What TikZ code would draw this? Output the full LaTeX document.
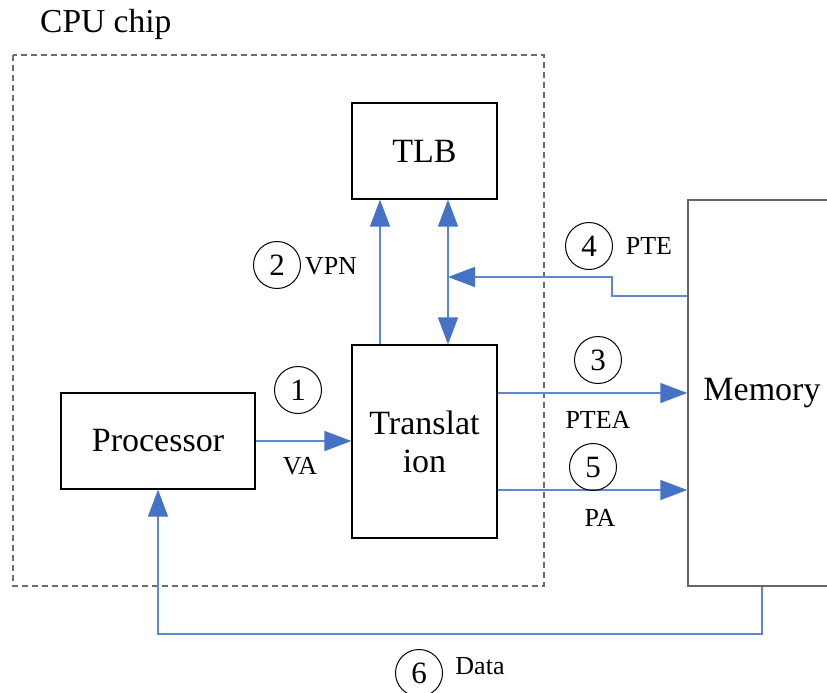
\documentclass[tikz,border=0pt]{standalone}
\usepackage{fontspec}
\setmainfont{Liberation Serif}
\usetikzlibrary{arrows.meta,calc}
\definecolor{arrblue}{HTML}{4472C4}
\definecolor{lineblue}{HTML}{5B88D0}
\begin{document}
\begin{tikzpicture}[x=1pt,y=-1pt,
  box/.style={draw=black,line width=1.3pt,inner sep=0pt,font=\fontsize{34}{38}\selectfont,align=center},
  arr/.style={draw=lineblue,line width=1.5pt,-{Triangle[width=20pt,length=27pt,fill=arrblue,color=arrblue]}},
  num/.style={draw=black,circle,line width=1pt,minimum size=47pt,inner sep=0pt,font=\fontsize{31}{33}\selectfont},
  lbl/.style={inner sep=0pt,font=\fontsize{26}{28}\selectfont}]
\useasboundingbox (0,0) rectangle (827,693);
\clip (0,0) rectangle (827,693);
% CPU chip frame
\node[inner sep=0pt,anchor=base west,font=\fontsize{33.5}{36}\selectfont] (cpu) at (40,33) {CPU chip};
\draw[gray!85!black,line width=1.1pt,dash pattern=on 6pt off 4pt] (13,55) rectangle (544,586);
% boxes
\node[box,minimum width=145pt,minimum height=96pt] (tlb) at (424.5,151) {TLB};
\node[box,minimum width=145pt,minimum height=193pt] (trans) at (424.5,441.5) {Translat\\ion};
\node[box,minimum width=194pt,minimum height=96pt] (proc) at (158,441) {Processor};
\node[box,draw=gray!80!black,line width=1.5pt,minimum width=148pt,minimum height=386pt] (mem) at (762,393) {Memory};
% helper coordinates
\coordinate (vpnx) at (380,0);
\coordinate (dblx) at (448,0);
\coordinate (vay) at (0,441);
\coordinate (pteay) at (0,393);
\coordinate (pay) at (0,490);
\coordinate (ptey) at (0,296);
\coordinate (pteA) at (612,296);
\coordinate (pteB) at (612,277);
\coordinate (pteC) at (448,277);
\coordinate (dataA) at (762,634);
\coordinate (dataB) at (158,634);
% connectors
\draw[arr] (proc.east) -- (trans.west |- vay);
\draw[arr] (vpnx |- trans.north) -- (vpnx |- tlb.south);
\draw[arr,{Triangle[width=20pt,length=27pt,fill=arrblue,color=arrblue]}-{Triangle[width=20pt,length=27pt,fill=arrblue,color=arrblue]}] (dblx |- tlb.south) -- (dblx |- trans.north);
\draw[arr] (mem.west |- ptey) -- (pteA) -- (pteB) -- (pteC);
\draw[arr] (trans.east |- pteay) -- (mem.west |- pteay);
\draw[arr] (trans.east |- pay) -- (mem.west |- pay);
\draw[arr] (dataA |- mem.south) -- (dataA) -- (dataB) -- (proc.south);
% labels
\node[num] (n1) at (298,390) {1};
\node[lbl] (va) at (300,466) {VA};
\node[num] (n2) at (277,265) {2};
\node[lbl] (vpn) at (331,266) {VPN};
\node[num] (n3) at (598,360) {3};
\node[lbl] (ptea) at (598,420) {PTEA};
\node[num] (n4) at (589,246) {4};
\node[lbl] (pte) at (649,246) {PTE};
\node[num] (n5) at (593,467) {5};
\node[lbl] (pa) at (600,518) {PA};
\node[num] (n6) at (419,673) {6};
\node[lbl] (data) at (480,666) {Data};
\end{tikzpicture}
\end{document}
